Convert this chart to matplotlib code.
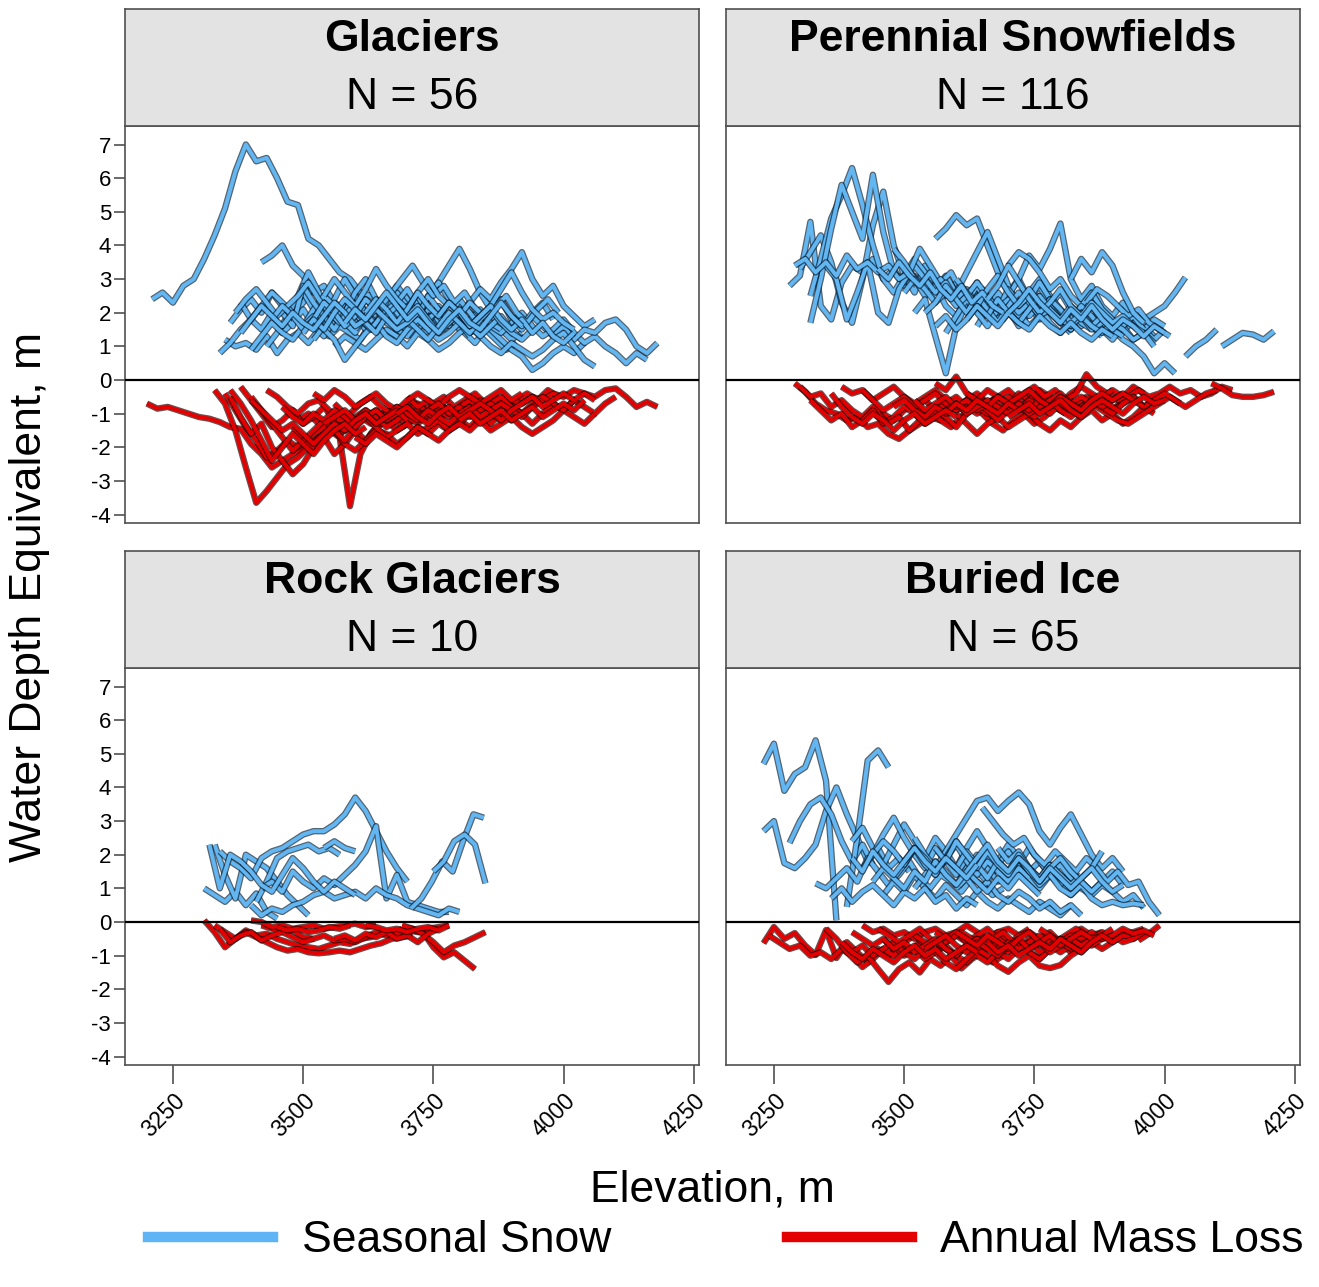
import numpy as np
import matplotlib
matplotlib.use("Agg")
import matplotlib.pyplot as plt
import matplotlib.patheffects as pe
from matplotlib.lines import Line2D

plt.rcParams['font.family'] = ['Liberation Sans', 'DejaVu Sans']
plt.rcParams['axes.unicode_minus'] = False

STEP = 20  # spacing of profile points along elevation, m

panel_names = ["Glaciers", "Perennial Snowfields", "Rock Glaciers", "Buried Ice"]
panel_counts = [56, 116, 10, 65]
x_ticks = [3250, 3500, 3750, 4000, 4250]
y_ticks = [7, 6, 5, 4, 3, 2, 1, 0, -1, -2, -3, -4]

# ---- Glaciers ----
glacier_snow_start = [3210, 3420, 3350, 3360, 3380, 3430, 3480, 3520, 3600, 3700,
                      3980, 3560, 3340, 3460, 3650, 3400, 3540, 3370,
                      3440, 3500, 3620, 3760, 3380, 3580]
glacier_snow = [
    [2.4, 2.6, 2.3, 2.8, 3.0, 3.6, 4.3, 5.1, 6.2, 7.0, 6.5, 6.6, 6.0, 5.3, 5.2, 4.2, 4.0, 3.6, 3.2, 3.0, 2.6, 2.5, 2.3, 2.4, 2.1],
    [3.5, 3.7, 4.0, 3.4, 3.1, 2.6, 2.8, 2.3, 2.1, 2.4, 2.0, 1.9],
    [1.2, 1.0, 1.1, 0.9, 1.3, 0.8, 1.2, 1.4, 1.1, 1.5, 1.3, 1.6, 1.4, 1.2, 1.7, 1.5, 1.3, 1.6, 1.8, 1.4, 1.5],
    [1.7, 2.1, 2.4, 2.0, 2.6, 2.2, 1.9, 2.3, 2.8, 2.1, 1.8, 2.2, 2.5, 2.0, 1.7, 1.9, 2.2, 1.6, 1.8, 2.0, 1.5, 1.7, 1.9, 1.4, 1.6],
    [2.3, 1.8, 1.5, 2.0, 1.4, 1.7, 2.1, 1.6, 1.3, 1.8, 2.2, 1.9, 1.5, 1.7, 2.3, 2.0, 1.8, 2.4, 2.1, 1.7, 1.9, 1.6, 1.4, 1.8, 2.0, 1.5, 1.2, 1.4],
    [1.0, 1.4, 1.9, 2.5, 3.2, 2.6, 2.0, 1.7, 2.3, 1.8, 1.5, 1.9, 2.1, 1.6, 1.3, 1.7, 2.0, 1.5, 1.8, 1.4, 1.1, 1.5, 1.2, 0.9, 1.1],
    [2.2, 2.6, 2.1, 1.7, 2.4, 3.0, 2.5, 2.0, 1.6, 2.2, 2.8, 2.4, 1.9, 2.3, 2.9, 3.4, 3.9, 3.3, 2.6, 2.1, 2.4, 1.8, 1.5, 1.9, 1.6, 1.3],
    [1.2, 1.6, 2.0, 1.7, 1.4, 1.9, 2.2, 1.8, 1.5, 1.3, 1.7, 2.1, 1.9, 1.6, 2.3, 2.0, 1.7, 1.5, 1.2, 0.9, 0.7, 0.3, 0.5, 0.8, 1.0, 0.8, 1.1],
    [1.5, 1.9, 2.3, 2.0, 2.6, 2.2, 1.8, 2.5, 2.9, 2.4, 2.0, 2.3, 2.7, 2.4, 2.9, 3.3, 3.8, 3.0, 2.5, 2.8, 2.2, 1.9, 1.6, 1.8],
    [1.6, 2.0, 1.7, 2.2, 1.9, 1.5, 1.8, 2.1, 1.6, 1.4, 1.7, 2.0, 1.6, 1.3, 1.5, 1.8, 1.4, 1.1, 1.3, 1.0, 0.8, 0.5, 0.8, 0.6],
    [1.3, 1.6, 1.2, 1.5, 1.4, 1.7, 1.8, 1.5, 1.0, 0.8, 1.1],
    [1.0, 1.3, 1.1, 0.9, 1.2, 1.5, 1.3, 1.0, 1.4, 1.2, 0.9, 1.1, 1.4, 1.6, 1.3, 1.0, 0.8, 1.1, 0.9, 0.7, 0.9, 1.2, 1.4, 1.0, 0.6, 0.4],
    [0.8, 1.1, 1.5, 1.8, 2.2, 2.6, 2.3, 2.0, 1.6, 2.1, 2.5, 2.2, 1.7, 2.0, 2.4, 2.1, 1.9, 2.3, 2.7, 2.2, 1.8, 2.1, 1.7, 2.0, 1.6],
    [2.0, 1.6, 2.8, 2.3, 1.9, 1.5, 2.0, 2.6, 3.0, 2.4, 2.0, 1.7, 2.2, 1.9, 2.5, 2.1, 1.8, 2.4, 2.0, 1.6, 2.1, 2.4, 1.9, 1.6, 2.0, 2.3, 1.8],
    [2.2, 2.6, 3.0, 3.4, 2.9, 2.5, 2.8, 2.3, 2.6, 2.1, 1.8, 2.2, 2.5, 2.0, 1.7, 2.1, 2.4, 2.0],
    [0.9, 1.3, 1.7, 1.4, 1.2, 1.6, 1.9, 1.5, 1.2, 0.6, 1.0, 1.4, 1.7, 1.3, 1.1, 1.5, 1.8, 1.5, 1.2, 1.4, 1.7, 1.3],
    [2.5, 3.0, 2.6, 2.2, 2.7, 3.3, 2.8, 2.4, 2.1, 2.6, 3.0, 2.5, 2.2, 1.9, 2.3, 2.0, 1.7, 1.5],
    [2.0, 2.4, 2.7, 2.3, 1.9, 2.2, 2.5, 2.9, 2.4, 2.0, 1.7, 2.1, 1.8, 1.5, 1.9, 2.2, 1.8, 1.6],
    [1.8, 2.2, 1.9, 1.5, 1.8, 2.3, 2.0, 1.6, 1.9, 2.4, 2.1, 1.7, 1.5, 1.9, 2.2, 1.8, 1.4, 1.7, 2.0, 1.6, 1.3, 1.6, 1.9, 1.5, 1.2],
    [1.4, 1.8, 1.5, 2.0, 2.4, 2.1, 1.7, 1.4, 1.9, 2.2, 1.8, 1.5, 1.2, 1.6, 2.0, 1.7, 1.4, 1.8, 2.1, 1.7, 1.4, 1.2, 1.5],
    [2.0, 2.4, 2.1, 1.7, 2.1, 2.6, 2.2, 1.9, 2.3, 2.0, 1.6, 1.9, 2.2, 2.7, 3.2, 2.6, 2.1, 1.8, 2.0, 1.7, 1.5],
    [1.9, 2.3, 2.0, 1.6, 1.9, 2.2, 1.8, 1.5, 1.8, 1.4, 1.7, 1.3, 1.1, 1.4],
    [1.4, 1.8, 2.2, 1.9, 1.6, 2.0, 1.7, 1.5, 1.9, 2.3, 2.0, 1.6, 1.8, 2.1, 1.8, 1.5, 1.7, 2.0],
    [1.7, 2.1, 1.8, 2.2, 2.6, 2.2, 1.8, 2.1, 1.7, 1.4, 1.8, 2.1, 1.7, 1.5, 1.9, 2.3, 1.9, 1.6],
]
glacier_loss_start = [3200, 3330, 3490, 3350, 3360, 3380, 3430, 3480, 3560, 3620,
                      3880, 3700, 3400, 3520, 3600,
                      3460, 3540, 3400, 3680, 3360, 3800]
glacier_loss = [
    [-0.7, -0.85, -0.8, -0.9, -1.0, -1.1, -1.15, -1.25, -1.4, -1.45, -1.9, -2.2, -2.6, -2.4, -2.2, -2.0, -1.8, -1.6, -1.5, -1.3, -1.2, -1.1],
    [-0.3, -0.7, -1.5, -2.6, -3.65, -3.3, -2.9, -2.5, -2.3, -2.0, -1.7, -1.5, -1.6, -1.3, -1.2, -1.0, -1.1, -0.9],
    [-1.2, -1.0, -1.3, -1.5, -1.7, -3.75, -2.2, -1.6, -1.3, -1.1, -1.4, -1.2, -0.9, -1.1, -0.8, -1.0, -0.7],
    [-0.4, -0.9, -1.4, -1.8, -2.3, -2.1, -1.8, -2.0, -1.7, -1.5, -1.3, -1.6, -1.4, -1.1, -1.3, -1.0, -0.9, -1.2, -1.0, -0.8, -1.1, -0.9],
    [-0.5, -1.1, -1.6, -1.3, -2.0, -2.4, -2.8, -2.5, -2.0, -1.7, -2.2, -1.9, -1.5, -1.8, -1.4, -1.2, -1.5, -1.3, -1.0, -1.2],
    [-0.2, -0.6, -1.0, -1.4, -1.2, -0.9, -1.3, -1.1, -0.8, -1.2, -1.5, -1.1, -0.9, -1.2, -1.0, -0.8, -1.1, -1.3, -1.0, -0.7, -0.9, -1.1, -0.8, -0.6, -0.9, -0.7],
    [-0.3, -0.5, -0.8, -1.0, -0.7, -0.6, -0.9, -1.2, -1.0, -0.7, -0.5, -0.8, -1.0, -0.8, -0.6, -0.9, -0.7, -0.5, -0.8, -0.6, -0.4, -0.7, -0.5, -0.8, -0.6, -0.4, -0.6, -0.3, -0.5],
    [-1.4, -1.8, -2.0, -1.7, -1.5, -1.9, -2.1, -1.8, -1.5, -1.6, -1.9, -1.7, -1.4, -1.6, -1.3, -1.5, -1.2, -1.4, -1.1, -1.3, -1.0, -1.2, -0.9],
    [-0.7, -1.0, -1.2, -0.9, -1.1, -1.4, -1.2, -0.9, -0.7, -1.0, -1.2, -0.9, -1.1, -0.8, -0.6, -0.9, -1.1, -0.8, -1.0, -1.3, -1.0, -0.7, -0.9, -0.6, -0.8, -1.0, -0.7, -0.5],
    [-1.1, -1.4, -1.7, -1.5, -1.3, -1.6, -1.4, -1.2, -1.5, -1.3, -1.0, -1.2, -1.5, -1.3, -1.1, -1.4, -1.6, -1.4, -1.2, -0.9, -1.1, -1.3, -1.0],
    [-0.8, -0.6, -0.7, -0.5, -0.6, -0.4, -0.5, -0.3, -0.4, -0.5, -0.3, -0.25, -0.5, -0.8, -0.65, -0.8],
    [-0.5, -0.8, -0.6, -0.9, -1.1, -0.8, -0.6, -0.9, -0.7, -0.5, -0.8, -1.0, -0.7, -0.5, -0.7, -0.9, -0.6, -0.4, -0.6],
    [-0.5, -0.9, -1.3, -1.7, -2.1, -1.8, -1.5, -1.2, -1.5, -1.8, -1.4, -1.1, -0.9, -1.2, -1.0, -0.8, -1.1, -0.9, -0.7, -1.0, -0.8, -0.6, -0.9, -0.7],
    [-0.4, -0.6, -0.3, -0.5, -0.8, -0.6, -0.4, -0.7, -0.9, -0.6, -0.4, -0.6, -0.8, -0.5, -0.3, -0.5, -0.7, -0.5, -0.3, -0.6, -0.4],
    [-1.7, -1.9, -1.6, -1.8, -2.0, -1.7, -1.4, -1.6, -1.8, -1.5, -1.3, -1.5, -1.2, -1.0, -1.2],
    [-0.8, -1.1, -1.3, -1.0, -1.2, -0.9, -1.1, -1.4, -1.1, -0.9, -1.2, -1.0, -0.8, -1.1, -0.9, -0.7, -1.0, -0.8, -1.1, -0.9, -0.7, -0.9],
    [-1.3, -1.1, -0.9, -1.2, -1.0, -1.3, -1.1, -0.8, -1.0, -1.2, -0.9, -1.1, -1.3, -1.0, -0.8, -1.1, -0.9, -0.7, -0.9, -1.1, -0.8, -0.6],
    [-0.6, -0.9, -1.2, -1.5, -1.3, -1.6, -1.9, -1.6, -1.3, -1.5, -1.2, -1.0, -1.3, -1.1, -0.9, -1.2],
    [-1.0, -0.8, -1.1, -1.3, -1.0, -0.8, -1.1, -0.9, -0.7, -0.9, -1.2, -0.9, -0.7, -0.5, -0.8, -0.6, -0.4, -0.6],
    [-0.3, -0.7, -1.2, -1.8, -2.4, -2.0, -1.6, -1.9, -2.2, -1.8, -1.5, -1.3, -1.6, -1.4],
    [-1.2, -1.0, -1.3, -1.1, -0.9, -1.2, -1.0, -0.8, -1.1, -0.9, -0.7, -0.9, -0.6],
]

# ---- Perennial Snowfields ----
snowfield_snow_start = [3280, 3300, 3320, 3320, 3350, 3290, 3480, 3520, 3560, 3600,
                        3640, 3700, 3700, 3760, 4040, 4110, 3540, 3580, 3850, 3820,
                        3500, 3540, 3600, 3620, 3450, 3660, 3560, 3700]
snowfield_snow = [
    [2.8, 3.1, 4.7, 2.2, 1.8, 2.9, 3.4, 3.2, 3.6, 3.0, 3.3, 2.8, 3.1, 2.7, 2.5],
    [3.3, 3.8, 4.3, 3.5, 2.3, 1.7, 3.0, 4.6, 5.6, 4.0, 3.1, 2.6, 3.4, 3.0, 2.6, 2.9, 2.4],
    [2.5, 3.6, 4.8, 5.5, 6.3, 5.2, 4.0, 3.0, 2.6, 3.1, 3.6, 3.2, 2.8, 2.5, 2.9, 2.3],
    [1.7, 3.0, 4.5, 5.8, 5.0, 4.2, 6.1, 4.4, 3.2, 2.9, 3.4, 3.0, 2.7, 3.1, 2.6, 2.2, 2.5],
    [3.4, 3.0, 1.8, 2.6, 3.5, 2.0, 1.7, 2.7, 3.2, 3.9, 3.4, 2.9, 3.2, 2.6, 2.3, 2.7, 2.1, 1.8, 2.2],
    [3.4, 3.6, 3.2, 3.5, 3.1, 3.7, 3.3, 3.5, 3.2, 3.4, 3.0, 3.2, 2.9, 2.7, 3.0, 2.6, 2.4, 2.7, 2.3, 2.1, 2.4, 2.0, 1.8],
    [3.9, 3.5, 3.0, 2.5, 2.8, 2.2, 1.9, 2.4, 2.9, 2.3, 1.8, 2.1, 1.6, 2.0, 2.5, 2.0, 1.7, 1.4],
    [2.0, 2.4, 1.3, 0.2, 1.6, 2.3, 2.8, 2.2, 1.8, 2.4, 2.0, 1.6, 1.9, 2.3, 1.8, 1.5, 1.9, 1.6, 1.3],
    [4.2, 4.5, 4.9, 4.6, 4.8, 4.0, 3.2, 2.6, 3.0, 2.4, 2.8, 2.2, 2.6, 2.1, 1.8, 2.2],
    [2.6, 3.2, 3.8, 4.4, 3.6, 2.8, 2.2, 2.6, 3.0, 2.5, 2.1, 1.8, 2.2, 2.6, 2.1, 1.7, 1.5, 1.9, 1.6, 1.3],
    [1.6, 2.1, 2.6, 2.2, 1.8, 2.4, 2.9, 2.4, 1.9, 1.5, 2.0, 2.5, 2.1, 1.7, 1.4, 1.8, 1.5, 1.2, 1.5],
    [2.5, 3.0, 3.7, 3.3, 3.9, 4.65, 3.0, 2.4, 2.8, 2.2, 1.9, 2.3, 1.8, 1.5, 1.8, 1.6],
    [3.4, 3.8, 3.6, 3.2, 2.7, 3.0, 2.5, 2.2, 2.6, 2.1, 1.8, 1.6, 1.9, 1.8, 2.0, 2.2, 2.6, 3.05],
    [2.0, 2.4, 2.0, 1.6, 1.9, 2.2, 1.8, 1.5, 1.2, 1.0, 0.7, 0.2, 0.5, 0.2],
    [0.7, 1.0, 1.2, 1.5],
    [1.0, 1.2, 1.4, 1.35, 1.2, 1.45],
    [3.0, 2.6, 2.9, 2.4, 2.7, 2.2, 2.5, 2.0, 2.3, 1.9, 2.2, 1.8, 2.1, 1.7, 2.0, 1.6, 1.9, 1.5, 1.3, 1.6, 1.2, 1.4, 1.1],
    [1.4, 1.9, 2.4, 2.0, 1.6, 2.1, 2.7, 2.3, 1.9, 2.2, 1.7, 1.4, 1.8, 2.2, 1.9, 1.5, 1.2, 1.6, 1.9, 1.5],
    [2.3, 2.7, 2.5, 2.2, 1.9, 2.1, 1.7, 1.5, 1.3],
    [3.0, 3.6, 3.2, 3.8, 3.4, 2.6, 2.0, 1.7],
    [2.6, 3.0, 2.7, 2.3, 2.6, 2.2, 2.5, 2.9, 2.5, 2.1, 2.4, 2.0, 2.3, 1.9, 2.2, 1.8, 2.1, 1.7, 1.5],
    [2.0, 2.3, 2.8, 2.4, 2.0, 2.5, 2.1, 1.7, 2.2, 2.6, 2.3, 1.9, 2.1, 1.8, 1.6, 1.9, 1.5, 1.7],
    [3.0, 2.6, 2.2, 2.7, 3.1, 2.6, 2.2, 2.5, 2.0, 2.4, 2.1, 1.7, 2.0, 1.6, 1.9, 1.5, 1.3],
    [1.8, 2.2, 1.9, 2.4, 2.0, 1.7, 2.1, 2.5, 2.1, 1.8, 2.2, 1.9, 1.6, 1.4, 1.7, 1.5, 1.2, 1.4, 1.0],
    [3.3, 3.0, 3.5, 3.1, 2.8, 3.2, 2.7, 2.4, 2.8, 2.3, 2.6, 2.2, 2.0],
    [2.4, 2.8, 3.4, 2.9, 2.4, 2.0, 2.3, 2.7, 2.2, 1.9, 2.3, 2.0, 1.7, 1.9, 1.6, 1.4],
    [1.6, 1.9, 1.5, 1.8, 2.2, 1.9, 1.6, 2.0, 1.7, 1.5, 1.9, 1.6, 1.4, 1.7, 1.4, 1.2, 1.5, 1.3],
    [2.0, 2.3, 2.7, 2.3, 2.0, 1.7, 2.1, 1.8, 2.2, 1.8, 1.5, 1.8, 1.6, 1.3, 1.6, 1.4],
]
snowfield_loss_start = [3290, 3300, 3320, 3380, 3450, 3500, 3560, 3600, 3650, 3730,
                        4090, 3760, 3420, 3540,
                        3520, 3580, 3620, 3480, 3700, 3360]
snowfield_loss = [
    [-0.1, -0.35, -0.7, -0.9, -1.0, -1.2, -1.1, -1.4, -1.3, -1.6, -1.75, -1.5, -1.3, -1.1, -1.2, -0.9],
    [-0.2, -0.5, -0.4, -0.8, -0.6, -0.9, -1.1, -0.8, -1.0, -1.2, -0.9, -0.7, -1.0, -0.8, -0.6, -0.9, -0.7, -0.5],
    [-0.6, -0.9, -1.2, -1.0, -1.4, -1.2, -0.9, -1.3, -1.1, -0.8, -1.0, -1.3, -1.1, -0.9, -0.7, -1.0, -0.8, -1.1, -0.9, -0.7],
    [-0.2, -0.4, -0.3, -0.6, -0.4, -0.2, -0.5, -0.7, -0.5, -0.3, -0.6, -0.8, -0.6, -0.4, -0.7, -0.5, -0.3, -0.6, -0.4],
    [-1.0, -1.3, -1.1, -1.5, -1.2, -0.9, -1.2, -1.4, -1.1, -0.8, -1.0, -1.3, -1.5, -1.2, -1.0, -1.3, -1.1, -0.8, -1.0],
    [-0.5, -0.8, -0.6, -0.9, -0.7, -0.5, -0.8, -1.0, -0.7, -0.5, -0.7, -0.9, -0.6, -0.4, -0.7, -0.9, -0.6, -0.8, -0.5, -0.7, -0.9, -0.6],
    [-0.1, -0.3, 0.1, -0.4, -0.6, -0.3, -0.5, -0.7, -0.4, -0.6, -0.3, -0.5, -0.7, -0.4, -0.2, -0.4, -0.6, -0.3, -0.5, -0.2, -0.4],
    [-1.0, -1.3, -1.6, -1.3, -1.1, -1.4, -1.2, -1.0, -1.3, -1.5, -1.2, -1.4, -1.1, -0.9, -1.2, -1.0, -1.3, -1.1, -0.8, -1.0],
    [-0.6, -0.8, -1.0, -0.7, -0.9, -1.1, -0.8, -0.6, -0.9, -0.7, -0.5, -0.8, -1.0, -1.2, -1.3, -1.1, -0.9, -0.7, -0.5, -0.7],
    [-0.4, -0.2, -0.5, -0.3, -0.6, -0.4, 0.17, -0.2, -0.4, -0.6, -0.5, -0.3, -0.5, -0.4, -0.2, -0.4, -0.3, -0.5, -0.4, -0.2, -0.3],
    [-0.1, -0.25, -0.45, -0.5, -0.5, -0.45, -0.35],
    [-0.8, -1.0, -0.7, -0.9, -1.1, -0.8, -0.6, -0.9, -0.7, -0.5, -0.8, -0.6, -0.4, -0.6, -0.8, -0.6, -0.4, -0.3],
    [-0.3, -0.6, -0.9, -0.7, -0.5, -0.8, -0.6, -0.4, -0.7, -0.9, -0.6, -0.8, -1.0, -0.7, -0.5, -0.8, -0.6],
    [-1.2, -0.9, -1.1, -1.4, -1.0, -0.7, -0.9, -1.2, -0.9, -0.7, -1.0, -0.8, -0.6, -0.9, -1.1, -0.8, -0.6, -0.8, -1.0, -0.7, -0.5, -0.8, -0.6],
    [-0.6, -0.9, -0.7, -0.5, -0.8, -0.6, -0.9, -0.7, -0.5, -0.7, -0.9, -0.6, -0.8, -0.6, -0.4, -0.7, -0.5, -0.7, -0.5, -0.3],
    [-0.9, -0.7, -1.0, -0.8, -0.6, -0.8, -1.0, -0.7, -0.9, -0.6, -0.8, -0.5, -0.7, -0.9, -0.6, -0.8, -0.6, -0.4],
    [-0.4, -0.6, -0.8, -0.5, -0.7, -0.5, -0.3, -0.6, -0.8, -0.5, -0.7, -0.9, -0.6, -0.4, -0.6, -0.4, -0.6, -0.8],
    [-0.8, -0.6, -0.9, -1.1, -0.8, -1.0, -0.7, -0.9, -0.6, -0.8, -1.0, -0.7, -0.9, -0.7],
    [-1.1, -0.9, -0.7, -1.0, -0.8, -0.6, -0.9, -1.1, -0.8, -0.6, -0.8, -1.0, -0.7, -0.5, -0.7, -0.6],
    [-0.4, -0.8, -1.1, -1.3, -1.0, -1.2, -1.5, -1.2, -1.0, -1.3, -1.1, -0.9, -1.1],
]

# ---- Rock Glaciers ----
rock_snow_start = [3310, 3330, 3340, 3410, 3420, 3400, 3707, 3750, 3540, 3320]
rock_snow = [
    [1.0, 0.8, 0.6, 0.9, 0.5, 0.85, 0.3, 0.1],
    [2.3, 1.4, 0.7, 2.0, 1.8, 1.6, 1.2, 0.8, 0.5, 0.2],
    [2.1, 1.8, 1.6, 1.3, 1.9, 2.1, 2.2, 2.4, 2.6, 2.7, 2.7, 2.9, 3.2, 3.7, 3.3, 2.7, 2.1, 1.6, 1.2],
    [0.6, 1.2, 1.9, 2.1, 2.2, 2.3, 2.1, 2.2, 2.0],
    [1.0, 1.2, 0.9, 1.5, 1.2, 1.0, 1.3, 1.1, 1.4, 1.7, 2.1, 2.85, 0.7, 1.4, 0.6, 0.5, 0.4, 0.3, 0.3],
    [0.5, 0.2, 0.4, 0.3, 0.5, 0.6, 0.8, 0.9, 0.7, 0.8, 0.9, 0.7, 1.0, 0.8, 0.7, 0.5, 0.4, 0.3, 0.2, 0.4, 0.3],
    [0.4, 0.7, 1.2, 1.8, 1.5, 2.4, 3.2, 3.1],
    [1.5, 1.8, 2.4, 2.6, 2.3, 1.15],
    [2.2, 2.4, 2.2, 2.1],
    [2.3, 1.0, 2.0, 1.8, 1.5, 1.1, 0.9, 1.4, 1.9, 1.6, 1.2, 0.9, 1.2, 1.0, 0.8],
]
rock_loss_start = [3310, 3330, 3420, 3690, 3690, 3400, 3560, 3340, 3620, 3450]
rock_loss = [
    [0.05, -0.3, -0.75, -0.5, -0.25, -0.4, -0.35, -0.5, -0.6, -0.7, -0.75, -0.8, -0.7, -0.6, -0.65, -0.5, -0.45, -0.3, -0.35, -0.2],
    [-0.1, -0.3, -0.5, -0.3, -0.45, -0.6, -0.75, -0.85, -0.8, -0.9, -0.93, -0.9, -0.85, -0.9, -0.8, -0.7, -0.63, -0.5, -0.45, -0.4],
    [-0.1, -0.2, -0.3, -0.25, -0.45, -0.5, -0.4, -0.55, -0.5, -0.6, -0.45, -0.3, -0.4, -0.35, -0.25, -0.3, -0.2, -0.15, -0.1],
    [-0.15, -0.2, -0.3, -0.75, -1.05, -0.9, -1.15, -1.4],
    [-0.1, -0.2, -0.35, -0.6, -0.9, -0.7, -0.6, -0.45, -0.3],
    [0.05, 0.0, -0.15, -0.1, -0.2, -0.15, -0.1, -0.2, -0.15, -0.1, -0.05, -0.15, -0.1],
    [-0.5, -0.4, -0.55, -0.35, -0.45, -0.3, -0.5, -0.4, -0.6, -0.35, -0.2],
    [-0.2, -0.6, -0.4, -0.3, -0.55, -0.4, -0.3, -0.45, -0.6, -0.5],
    [-0.1, -0.15, -0.25, -0.2, -0.3, -0.2, -0.15, -0.25, -0.1],
    [-0.15, -0.25, -0.2, -0.3, -0.25, -0.15, -0.2, -0.1],
]

# ---- Buried Ice ----
buried_snow_start = [3230, 3230, 3280, 3390, 3330, 3400, 3420, 3460, 3520, 3480,
                     3520, 3650, 3680, 3780, 3600, 3360, 3440,
                     3500, 3560, 3440, 3620, 3400]
buried_snow = [
    [4.7, 5.3, 3.9, 4.4, 4.6, 5.4, 4.2, 0.05],
    [2.7, 3.0, 1.75, 1.6, 1.9, 2.3, 3.3, 4.0, 3.2, 2.5, 1.8, 2.2, 1.6, 1.9, 1.5],
    [2.35, 3.0, 3.5, 3.7, 3.2, 2.4, 1.8, 2.3, 1.7],
    [0.45, 2.5, 4.8, 5.1, 4.6],
    [1.15, 1.0, 1.3, 1.6, 1.2, 1.9, 1.5, 1.1, 1.4, 1.8, 1.3, 1.0, 1.4, 1.2, 0.9, 1.3, 1.1, 0.8, 1.0],
    [2.4, 2.8, 2.2, 1.7, 2.3, 2.9, 2.4, 1.9, 2.5, 2.1, 1.6, 2.2, 2.7, 2.2, 1.8, 2.3, 1.9, 1.5, 1.8, 1.4],
    [1.6, 2.0, 2.6, 3.1, 2.5, 2.0, 1.6, 2.2, 1.8, 1.4, 1.9, 1.5, 1.2, 1.7, 2.1, 1.6, 1.3, 1.0, 1.4, 1.1, 0.8, 1.1],
    [0.8, 1.2, 0.9, 1.4, 1.0, 0.7, 1.1, 0.8, 0.5, 0.9, 0.6, 0.4, 0.7, 0.5, 0.3, 0.6, 0.4, 0.2, 0.5],
    [2.5, 2.0, 1.6, 2.1, 2.6, 3.1, 3.6, 3.7, 3.3, 3.6, 3.85, 3.5, 2.7, 2.3, 2.8, 3.2, 2.6, 2.0, 1.6, 1.9, 1.5],
    [1.3, 1.7, 2.2, 1.8, 1.4, 1.9, 2.4, 1.9, 1.5, 2.0, 1.6, 1.3, 1.7, 2.2, 1.8, 1.4, 1.1, 1.5, 1.2, 0.9, 1.2, 1.5, 1.1],
    [1.0, 1.4, 1.8, 1.5, 1.1, 1.6, 2.0, 1.6, 1.2, 1.5, 1.9, 1.5, 1.1, 1.4, 1.7, 1.3, 1.0, 0.8, 1.1, 0.9, 0.6, 0.8, 0.42],
    [3.4, 3.0, 2.6, 2.3, 2.5, 2.0, 1.7, 2.1, 1.8, 1.5, 1.9, 1.6, 1.2, 1.5, 1.1, 1.2, 0.6, 0.2],
    [2.2, 1.8, 2.1, 1.6, 1.3, 1.7, 1.4, 1.1, 1.3, 1.6, 2.1],
    [1.4, 1.0, 0.8, 1.1, 0.7, 0.5, 0.6, 0.5, 0.55, 0.5],
    [1.0, 1.3, 0.9, 1.2, 0.8, 0.6, 0.9, 0.7, 0.4, 0.6, 0.3, 0.5, 0.2],
    [0.7, 1.0, 0.6, 0.9, 1.1, 0.8, 0.5, 0.9, 0.7, 1.0, 0.6, 0.8, 0.4, 0.7, 0.5],
    [2.0, 2.4, 2.1, 1.7, 2.2, 1.9, 1.5, 1.9, 2.3, 1.8, 1.4, 1.8, 1.5, 1.2, 1.6, 1.3],
    [1.8, 2.2, 1.7, 1.4, 1.9, 1.6, 2.1, 1.7, 1.3, 1.8, 1.5, 2.0, 1.6, 1.3, 1.7, 1.4, 1.1, 1.4],
    [2.2, 1.8, 2.4, 2.0, 1.6, 2.1, 1.7, 1.4, 1.9, 1.5, 1.2, 1.6, 1.9, 1.5, 1.2, 0.9, 1.2],
    [1.2, 1.6, 1.3, 1.0, 1.5, 1.2, 1.8, 1.4, 1.1, 1.5, 1.2, 0.9, 1.3, 1.0, 1.4, 1.1, 0.8],
    [1.5, 1.9, 2.3, 1.8, 1.5, 1.9, 1.6, 1.2, 1.6, 1.3, 1.0, 1.3, 1.6, 1.2, 0.9, 1.1],
    [1.9, 1.5, 2.1, 1.7, 1.4, 1.8, 2.2, 1.8, 1.5, 1.9, 1.6, 1.3, 1.7],
]
buried_loss_start = [3230, 3240, 3350, 3400, 3420, 3480, 3520, 3560, 3620, 3950,
                     3700, 3380, 3450, 3760, 3640,
                     3460, 3540, 3600, 3400, 3660]
buried_loss = [
    [-0.63, -0.15, -0.5, -0.33, -0.7, -0.98, -0.24, -1.07, -0.6, -0.9, -1.2, -0.8, -1.0, -0.7, -0.9, -0.6],
    [-0.4, -0.6, -0.8, -0.7, -1.0, -0.9, -1.1, -0.8, -1.0, -1.34, -1.1, -0.8, -1.0, -0.7],
    [-0.2, -0.5, -0.9, -1.2, -1.0, -1.4, -1.78, -1.4, -1.2, -1.5, -1.1, -1.3, -1.0, -1.38, -1.1, -0.9, -1.2, -1.0],
    [-0.3, -0.5, -0.7, -0.5, -0.8, -0.6, -0.4, -0.7, -0.9, -0.6, -0.4, -0.6, -0.8, -0.5, -0.3, -0.6, -0.8, -0.5, -0.7, -0.4],
    [-0.1, -0.3, -0.2, -0.4, -0.3, -0.5, -0.3, -0.2, -0.4, -0.3, -0.1, -0.3, -0.5, -0.3, -0.2, -0.4, -0.2],
    [-0.7, -1.0, -0.8, -1.1, -0.9, -0.7, -1.0, -1.2, -0.9, -0.7, -1.0, -0.8, -0.6, -0.9, -1.1, -0.8, -0.6, -0.9, -0.7, -0.5],
    [-0.4, -0.6, -0.9, -1.2, -1.4, -1.1, -0.8, -1.0, -1.3, -1.48, -1.2, -1.0, -1.3, -1.37, -1.28, -1.0, -0.8, -0.6],
    [-0.3, -0.5, -0.3, -0.6, -0.4, -0.2, -0.5, -0.7, -0.4, -0.3, -0.5, -0.3, -0.6, -0.4, -0.2, -0.4, -0.3, -0.5, -0.35, -0.3, -0.2],
    [-0.6, -0.8, -0.5, -0.7, -0.9, -0.6, -0.8, -0.5, -0.7, -0.9, -0.7, -0.5, -0.6, -0.8, -0.6, -0.4, -0.5, -0.3],
    [-0.55, -0.35, -0.1],
    [-0.8, -0.6, -0.9, -1.1, -0.8, -0.6, -0.8, -0.5, -0.7, -0.5, -0.4, -0.6, -0.5, -0.3],
    [-0.6, -0.9, -0.7, -1.0, -0.8, -0.6, -0.9, -1.1, -0.8, -0.6, -0.8, -1.0, -0.7, -0.5, -0.8, -0.6],
    [-0.2, -0.4, -0.6, -0.4, -0.2, -0.5, -0.7, -0.5, -0.3, -0.5, -0.7, -0.5, -0.3, -0.6, -0.8, -0.6, -0.4, -0.6, -0.4, -0.2, -0.4],
    [-0.2, -0.4, -0.6, -0.4, -0.5, -0.3, -0.5, -0.4, -0.2, -0.35, -0.25, -0.4],
    [-1.0, -1.2, -0.9, -1.1, -0.8, -0.6, -0.9, -0.7, -0.5, -0.7, -0.9, -0.6],
    [-0.5, -0.8, -0.6, -0.9, -0.7, -0.5, -0.8, -1.0, -0.7, -0.5, -0.7, -0.9, -0.6, -0.8, -0.6, -0.4, -0.6],
    [-0.8, -0.6, -0.4, -0.7, -0.9, -0.6, -0.8, -1.0, -0.7, -0.5, -0.8, -0.6, -0.9, -0.7, -0.5, -0.7, -0.5, -0.3],
    [-0.3, -0.5, -0.7, -0.4, -0.6, -0.8, -0.5, -0.3, -0.6, -0.4, -0.7, -0.5, -0.3, -0.5, -0.4, -0.2],
    [-0.9, -1.1, -0.8, -1.0, -1.2, -0.9, -0.7, -1.0, -0.8, -1.1, -0.9, -0.7, -0.9],
    [-0.6, -0.9, -0.7, -1.0, -0.8, -0.6, -0.8, -0.5, -0.7, -0.9, -0.6, -0.4, -0.6, -0.4],
]

snow_col = '#62B6F2'
snow_edge = '#0a2238'
loss_col = '#E40000'
loss_edge = '#300000'


def draw_profiles(ax, starts, profiles, col, edge):
    for s, vals in zip(starts, profiles):
        elev = s + STEP * np.arange(len(vals))
        ax.plot(elev, vals, color=col, lw=2.8, solid_joinstyle='round',
                solid_capstyle='butt',
                path_effects=[pe.Stroke(linewidth=4.6, foreground=edge, alpha=0.7),
                              pe.Normal()])


fig = plt.figure(figsize=(13.19, 12.87), dpi=100)

lefts = [125 / 1319, 726 / 1319]
width = 574 / 1319
plot_bottoms = [1 - 523 / 1287, 1 - 1065 / 1287]
plot_h = 397 / 1287
strip_h = 117 / 1287

panel_data = [
    (glacier_snow_start, glacier_snow, glacier_loss_start, glacier_loss),
    (snowfield_snow_start, snowfield_snow, snowfield_loss_start, snowfield_loss),
    (rock_snow_start, rock_snow, rock_loss_start, rock_loss),
    (buried_snow_start, buried_snow, buried_loss_start, buried_loss),
]

for i in range(4):
    row, col = divmod(i, 2)
    ax = fig.add_axes([lefts[col], plot_bottoms[row], width, plot_h])
    sax = fig.add_axes([lefts[col], plot_bottoms[row] + plot_h, width, strip_h])

    ss, sv, ls, lv = panel_data[i]
    draw_profiles(ax, ss, sv, snow_col, snow_edge)
    draw_profiles(ax, ls, lv, loss_col, loss_edge)
    ax.axhline(0, color='black', lw=1.6, zorder=5)

    ax.set_xlim(3158, 4260)
    ax.set_ylim(-4.25, 7.55)
    ax.set_xticks(x_ticks)
    ax.set_yticks(y_ticks)
    for sp in ax.spines.values():
        sp.set_color('#505050')
        sp.set_linewidth(1.2)
    ax.tick_params(axis='y', length=8, width=1.2, color='#505050', labelsize=16, pad=2)
    ax.tick_params(axis='x', length=14, width=1.2, color='#505050', labelsize=16.5)
    if col == 1:
        ax.tick_params(axis='y', left=False, labelleft=False)
    if row == 0:
        ax.tick_params(axis='x', bottom=False, labelbottom=False)
    else:
        for lab in ax.get_xticklabels():
            lab.set_rotation(45)
            lab.set_ha('right')
            lab.set_va('top')
            lab.set_rotation_mode('anchor')

    sax.set_facecolor('#E3E3E3')
    sax.set_xticks([])
    sax.set_yticks([])
    for sp in sax.spines.values():
        sp.set_color('#505050')
        sp.set_linewidth(1.2)
    sax.text(0.5, 0.74, panel_names[i], ha='center', va='center',
             fontsize=32, fontweight='bold', transform=sax.transAxes)
    sax.text(0.5, 0.24, f"N = {panel_counts[i]}", ha='center', va='center',
             fontsize=32, transform=sax.transAxes)

fig.text(30 / 1319, 1 - 597 / 1287, "Water Depth Equivalent, m", rotation=90,
         ha='center', va='center', fontsize=32)
fig.text(712 / 1319, 1 - 1190 / 1287, "Elevation, m", ha='center', va='center',
         fontsize=32)

# legend along the bottom
leg_y = 1 - 1237 / 1287
txt_y = 1 - 1241 / 1287
fig.add_artist(Line2D([148 / 1319, 273 / 1319], [leg_y, leg_y], color='#5FB4F5', lw=7.5))
fig.text(302 / 1319, txt_y, "Seasonal Snow", ha='left', va='center', fontsize=32)
fig.add_artist(Line2D([787 / 1319, 912 / 1319], [leg_y, leg_y], color='#E40000', lw=7.5))
fig.text(940 / 1319, txt_y, "Annual Mass Loss", ha='left', va='center', fontsize=32)

fig.savefig("out.png", dpi=100)
